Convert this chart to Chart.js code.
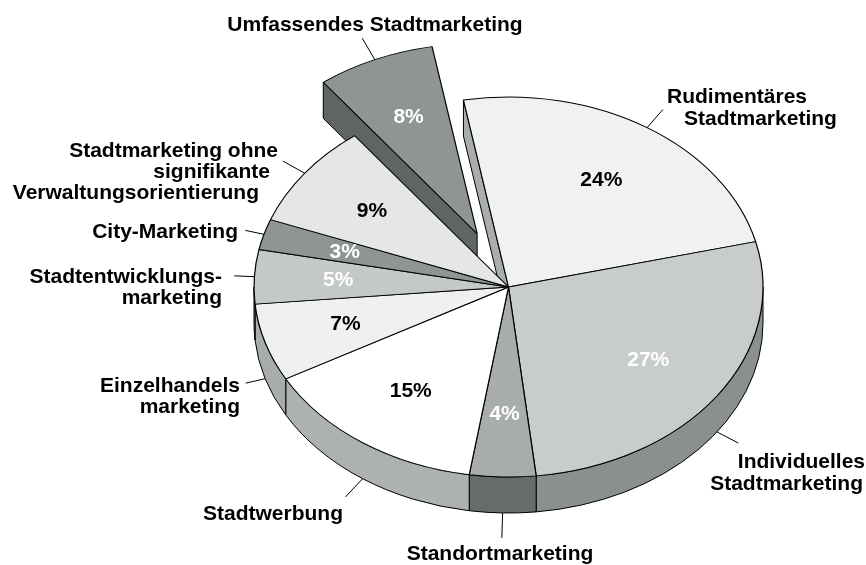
<!DOCTYPE html>
<html>
<head>
<meta charset="utf-8">
<script src="https://cdn.jsdelivr.net/npm/chart.js@4.4.1/dist/chart.umd.min.js"></script>
<style>
html,body{margin:0;padding:0;background:#ffffff;}
canvas{display:block;}
</style>
</head>
<body>
<canvas id="c" width="866" height="565"></canvas>
<script>
// ---- data ----
const categories = [
  'Rudimentäres Stadtmarketing',
  'Individuelles Stadtmarketing',
  'Standortmarketing',
  'Stadtwerbung',
  'Einzelhandelsmarketing',
  'Stadtentwicklungsmarketing',
  'City-Marketing',
  'Stadtmarketing ohne signifikante Verwaltungsorientierung',
  'Umfassendes Stadtmarketing'
];
const shares = [24.0, 27.1, 4.2, 14.5, 6.6, 4.6, 2.6, 8.9, 7.5];
const percentLabels = ['24%', '27%', '4%', '15%', '7%', '5%', '3%', '9%', '8%'];
const labelLines = [
  ['Rudimentäres', 'Stadtmarketing'],
  ['Individuelles', 'Stadtmarketing'],
  ['Standortmarketing'],
  ['Stadtwerbung'],
  ['Einzelhandels', 'marketing'],
  ['Stadtentwicklungs-', 'marketing'],
  ['City-Marketing'],
  ['Stadtmarketing ohne', 'signifikante', 'Verwaltungsorientierung'],
  ['Umfassendes Stadtmarketing']
];
const explodedCategory = 'Umfassendes Stadtmarketing';

// ---- styles ----
const topColors  = ['#f0f1f1', '#c9cccc', '#a8acac', '#ffffff', '#eff0f0', '#c5c8c8', '#8f9595', '#e5e7e7', '#8f9595'];
const sideColors = ['#a9adad', '#8a9090', '#666c6c', '#adb1b1', '#a8acac', '#8b9090', '#5f6565', '#a5a9a9', '#5f6565'];
const pctColors  = ['#000', '#fff', '#fff', '#000', '#000', '#fff', '#fff', '#000', '#fff'];
const FONT = 'bold 21px "Liberation Sans", Arial, Helvetica, sans-serif';

const labelLayout = [
  {len: 24, pos: [[667, 103, 'left'], [684, 125, 'left']]},
  {len: 24, pos: [[865, 468, 'right'], [863, 490, 'right']]},
  {len: 25, pos: [[500, 560, 'center']]},
  {len: 25, pos: [[343, 520, 'right']]},
  {len: 20, pos: [[240, 392, 'right'], [240, 413, 'right']]},
  {len: 20, pos: [[222, 283, 'right'], [222, 304, 'right']]},
  {len: 19, pos: [[238, 238, 'right']]},
  {len: 25, pos: [[278, 157, 'right'], [270, 178, 'right'], [259, 199, 'right']]},
  {len: 25, pos: [[375, 31, 'center']]}
];

const pie3d = {
  id: 'pie3d',
  _geom(chart, opts) {
    const arcs = chart.getDatasetMeta(0).data;
    const k = opts.tilt;
    const offs = arcs.map((a, i) => {
      const e = categories[i] === opts.explode.category ? opts.explode.distance : 0;
      const m = (a.startAngle + a.endAngle) / 2;
      return {x: Math.cos(m) * e, y: Math.sin(m) * e * k, e};
    });
    return {arcs, offs, k};
  },
  beforeDatasetsDraw(chart, args, opts) {
    const ctx = chart.ctx;
    const {arcs, offs, k} = this._geom(chart, opts);
    const depth = opts.depth;
    const n = arcs.length;
    const isEx = i => offs[(i + n) % n].e > 0;
    const pt = (a, o, ang, r, dz) => ({
      x: a.x + o.x + r * Math.cos(ang),
      y: a.y + o.y + r * k * Math.sin(ang) + (dz || 0)
    });
    ctx.save();
    ctx.lineWidth = 1;
    ctx.strokeStyle = '#000';
    ctx.lineJoin = 'round';

    function radial(i) {
      const a = arcs[i], o = offs[i];
      const faces = [];
      if (isEx(i) || isEx(i - 1)) faces.push({ang: a.startAngle, ny: -Math.cos(a.startAngle)});
      if (isEx(i) || isEx(i + 1)) faces.push({ang: a.endAngle, ny: Math.cos(a.endAngle)});
      faces.forEach(f => {
        if (f.ny <= 0) return;
        const c = {x: a.x + o.x, y: a.y + o.y};
        const r = pt(a, o, f.ang, a.outerRadius);
        ctx.beginPath();
        ctx.moveTo(c.x, c.y);
        ctx.lineTo(r.x, r.y);
        ctx.lineTo(r.x, r.y + depth);
        ctx.lineTo(c.x, c.y + depth);
        ctx.closePath();
        ctx.fillStyle = sideColors[i];
        ctx.fill();
        ctx.stroke();
      });
    }
    function rim(i) {
      const a = arcs[i], o = offs[i];
      const ranges = [[0, Math.PI], [2 * Math.PI, 3 * Math.PI], [-2 * Math.PI, -Math.PI]];
      ranges.forEach(([lo, hi]) => {
        const s = Math.max(a.startAngle, lo), e = Math.min(a.endAngle, hi);
        if (e <= s) return;
        ctx.beginPath();
        ctx.ellipse(a.x + o.x, a.y + o.y, a.outerRadius, a.outerRadius * k, 0, s, e, false);
        ctx.ellipse(a.x + o.x, a.y + o.y + depth, a.outerRadius, a.outerRadius * k, 0, e, s, true);
        ctx.closePath();
        ctx.fillStyle = sideColors[i];
        ctx.fill();
        ctx.stroke();
      });
    }
    function top(i) {
      const a = arcs[i], o = offs[i];
      ctx.save();
      ctx.translate(a.x + o.x, a.y + o.y);
      ctx.scale(1, k);
      ctx.translate(-a.x, -a.y);
      a.draw(ctx);
      ctx.restore();
    }
    const ex = [], main = [];
    for (let i = 0; i < n; i++) (offs[i].e > 0 ? ex : main).push(i);
    [ex, main].forEach(group => {
      group.forEach(radial);
      group.forEach(rim);
      group.forEach(top);
    });
    ctx.restore();
    return false;
  },
  afterDraw(chart, args, opts) {
    const ctx = chart.ctx;
    const {arcs, offs, k} = this._geom(chart, opts);
    const depth = opts.depth;
    ctx.save();
    ctx.font = FONT;
    // percentages on the slices
    ctx.textAlign = 'center';
    ctx.textBaseline = 'middle';
    arcs.forEach((a, i) => {
      const o = offs[i];
      const m = (a.startAngle + a.endAngle) / 2;
      const r = a.outerRadius * 0.67;
      ctx.fillStyle = pctColors[i];
      ctx.fillText(percentLabels[i], a.x + o.x + r * Math.cos(m), a.y + o.y + r * k * Math.sin(m));
    });
    // leader lines and category labels
    ctx.strokeStyle = '#000';
    ctx.lineWidth = 1;
    ctx.textBaseline = 'alphabetic';
    ctx.fillStyle = '#000';
    arcs.forEach((a, i) => {
      const o = offs[i];
      const m = (a.startAngle + a.endAngle) / 2;
      const sx = a.x + o.x + a.outerRadius * Math.cos(m);
      const sy = a.y + o.y + a.outerRadius * k * Math.sin(m) + (Math.sin(m) > 0 ? depth : 0);
      let dx = Math.cos(m), dy = k * Math.sin(m);
      const L = Math.hypot(dx, dy);
      const len = labelLayout[i].len;
      ctx.beginPath();
      ctx.moveTo(sx, sy);
      ctx.lineTo(sx + dx / L * len, sy + dy / L * len);
      ctx.stroke();
      labelLines[i].forEach((line, j) => {
        const p = labelLayout[i].pos[j];
        ctx.textAlign = p[2];
        ctx.fillText(line, p[0], p[1]);
      });
    });
    ctx.restore();
  }
};

new Chart(document.getElementById('c'), {
  type: 'pie',
  data: {
    labels: categories,
    datasets: [{
      data: shares,
      backgroundColor: topColors,
      borderColor: '#000000',
      borderWidth: 1.2
    }]
  },
  options: {
    responsive: false,
    animation: false,
    devicePixelRatio: 1,
    rotation: -10.2,
    radius: 254.5,
    layout: {padding: {left: 151, right: 0, top: 9, bottom: 0}},
    plugins: {
      legend: {display: false},
      tooltip: {enabled: false},
      pie3d: {tilt: 0.7466, depth: 36, explode: {category: explodedCategory, distance: 78}}
    }
  },
  plugins: [pie3d]
});
</script>
</body>
</html>
